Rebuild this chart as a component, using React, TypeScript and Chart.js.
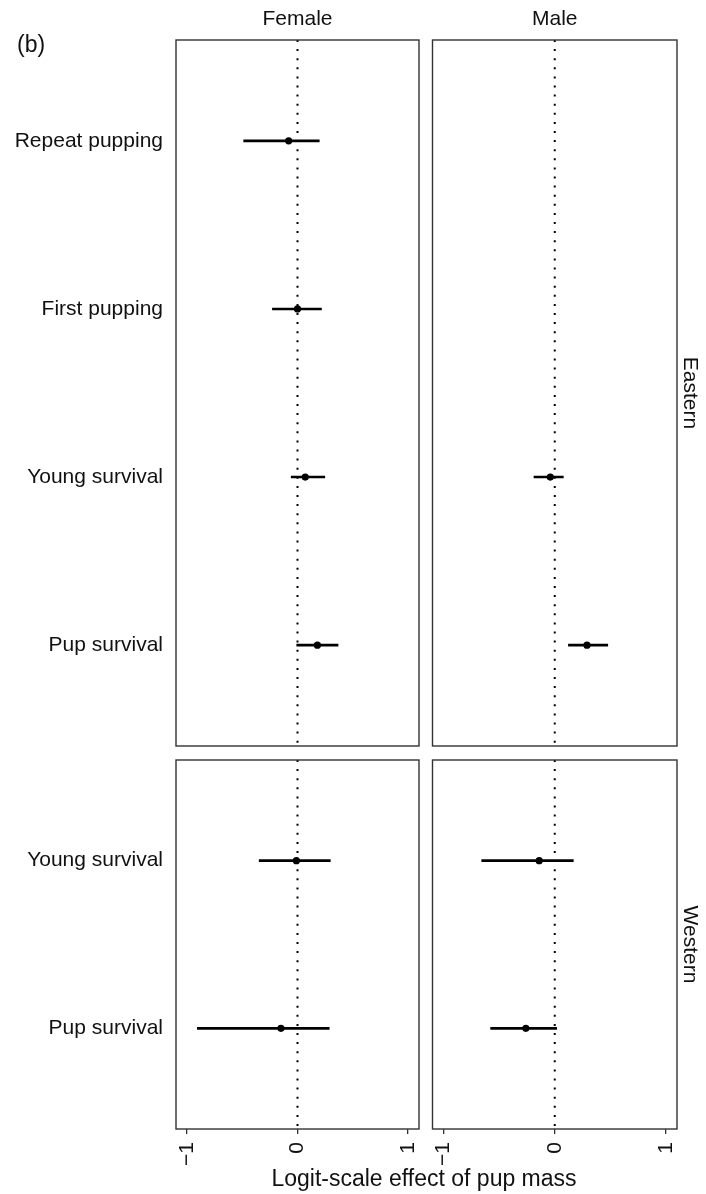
import React, { useEffect, useRef } from 'react';
import { Chart, registerables } from 'chart.js';

Chart.register(...registerables);

const FONT = "'Liberation Sans', Arial, Helvetica, sans-serif";
const TEXT = '#111111';

// ---- data ----
const eastCategories = ['Repeat pupping', 'First pupping', 'Young survival', 'Pup survival'];
const westCategories = ['Young survival', 'Pup survival'];
const xTicks = [-1, 0, 1];

const eastFemaleEst = [-0.08, 0.0, 0.07, 0.18];
const eastFemaleLo = [-0.49, -0.23, -0.06, -0.01];
const eastFemaleHi = [0.2, 0.22, 0.25, 0.37];

const eastMaleEst = [null, null, -0.04, 0.29];
const eastMaleLo = [null, null, -0.19, 0.12];
const eastMaleHi = [null, null, 0.08, 0.48];

const westFemaleEst = [-0.01, -0.15];
const westFemaleLo = [-0.35, -0.91];
const westFemaleHi = [0.3, 0.29];

const westMaleEst = [-0.14, -0.26];
const westMaleLo = [-0.66, -0.58];
const westMaleHi = [0.17, 0.02];

const xTitle = 'Logit-scale effect of pup mass';
const panelTag = '(b)';

type Pad = { left: number; top: number; right: number; bottom: number };
type PanelSpec = {
  categories: string[];
  est: (number | null)[];
  lo: (number | null)[];
  hi: (number | null)[];
  padding: Pad;
  showY: boolean;
  showX: boolean;
  stripTop?: string;
  stripRight?: string;
};

const fmt = (v: number) => (v < 0 ? '\u2212' + Math.abs(v) : String(v));

const panelBorder = {
  id: 'panelBorder',
  afterDraw(chart: any) {
    const { ctx, chartArea: a } = chart;
    ctx.save();
    ctx.strokeStyle = '#333333';
    ctx.lineWidth = 1.4;
    ctx.strokeRect(a.left, a.top, a.right - a.left, a.bottom - a.top);
    ctx.restore();
  },
};

function panelConfig(p: PanelSpec): any {
  const n = p.categories.length;
  const yMin = 0.4;
  const yMax = n + 0.6;
  const datasets: any[] = [];
  datasets.push({
    data: p.est
      .map((v, i) => (v == null ? null : { x: v, y: i + 1 }))
      .filter((d) => d !== null),
    pointRadius: 3.6,
    pointBackgroundColor: '#000',
    pointBorderWidth: 0,
    showLine: false,
    order: 1,
  });
  p.lo.forEach((lo, i) => {
    const hi = p.hi[i];
    if (lo == null || hi == null) return;
    datasets.push({
      data: [
        { x: lo, y: i + 1 },
        { x: hi, y: i + 1 },
      ],
      showLine: true,
      borderColor: '#000',
      borderWidth: 2.6,
      pointRadius: 0,
      order: 2,
    });
  });
  datasets.push({
    data: [
      { x: 0, y: yMin },
      { x: 0, y: yMax },
    ],
    showLine: true,
    borderColor: '#000',
    borderWidth: 2,
    borderDash: [2, 7.1],
    borderCapStyle: 'butt',
    pointRadius: 0,
    order: 3,
  });

  const scales: any = {
    x: {
      type: 'linear',
      position: 'bottom',
      min: -1.1,
      max: 1.1,
      display: p.showX,
      afterBuildTicks: (s: any) => {
        s.ticks = xTicks.map((v) => ({ value: v }));
      },
      ticks: {
        minRotation: 90,
        maxRotation: 90,
        autoSkip: false,
        font: { size: 21, family: FONT },
        color: TEXT,
        padding: 8,
        callback: (v: any) => fmt(Number(v)),
      },
      grid: {
        display: true,
        drawOnChartArea: false,
        drawTicks: true,
        tickLength: 5,
        color: '#333333',
        lineWidth: 1.3,
      },
      border: { display: false },
      afterFit: (s: any) => {
        s.height = p.showX ? 65 : 0;
      },
    },
    y: {
      type: 'linear',
      position: 'left',
      min: yMin,
      max: yMax,
      reverse: true,
      display: p.showY,
      afterBuildTicks: (s: any) => {
        s.ticks = p.categories.map((_, i) => ({ value: i + 1 }));
      },
      ticks: {
        autoSkip: false,
        font: { size: 21, family: FONT },
        color: TEXT,
        padding: 13,
        callback: (v: any) => p.categories[Math.round(Number(v)) - 1] ?? '',
      },
      grid: { display: false, drawTicks: false },
      border: { display: false },
      afterFit: (s: any) => {
        s.width = p.showY ? 176 : 0;
      },
    },
  };
  if (p.stripTop) {
    scales.stripTop = {
      axis: 'x',
      type: 'linear',
      position: 'top',
      display: true,
      ticks: { display: false },
      grid: { display: false, drawTicks: false },
      border: { display: false },
      title: {
        display: true,
        text: p.stripTop,
        color: TEXT,
        font: { size: 21, family: FONT, weight: 'normal' },
        padding: { top: 7, bottom: 0 },
      },
      afterFit: (s: any) => {
        s.height = 40;
      },
    };
  }
  if (p.stripRight) {
    scales.stripRight = {
      axis: 'y',
      type: 'linear',
      position: 'right',
      display: true,
      ticks: { display: false },
      grid: { display: false, drawTicks: false },
      border: { display: false },
      title: {
        display: true,
        text: p.stripRight,
        color: TEXT,
        font: { size: 21, family: FONT, weight: 'normal' },
        padding: { top: 4, bottom: 0 },
      },
      afterFit: (s: any) => {
        s.width = 29;
      },
    };
  }

  return {
    type: 'scatter',
    data: { datasets },
    options: {
      animation: false,
      responsive: false,
      maintainAspectRatio: false,
      devicePixelRatio: 1,
      events: [],
      layout: { padding: p.padding },
      plugins: { legend: { display: false }, tooltip: { enabled: false }, title: { display: false } },
      scales,
    },
    plugins: [panelBorder],
  };
}

const tagPlugin = {
  id: 'panelTag',
  afterDraw(chart: any) {
    const { ctx } = chart;
    ctx.save();
    ctx.font = `23px ${FONT}`;
    ctx.fillStyle = TEXT;
    ctx.textAlign = 'left';
    ctx.textBaseline = 'middle';
    ctx.fillText(panelTag, 17, 46);
    ctx.restore();
  },
};

function labelsConfig(): any {
  return {
    type: 'scatter',
    data: { datasets: [] },
    options: {
      animation: false,
      responsive: false,
      maintainAspectRatio: false,
      devicePixelRatio: 1,
      events: [],
      layout: { padding: { left: 142, right: 0, top: 0, bottom: 1 } },
      scales: { x: { display: false }, y: { display: false } },
      plugins: {
        legend: { display: false },
        tooltip: { enabled: false },
        title: {
          display: true,
          position: 'bottom',
          text: xTitle,
          color: TEXT,
          font: { size: 23, family: FONT, weight: 'normal' },
          padding: 0,
        },
      },
    },
    plugins: [tagPlugin],
  };
}

const W = 706;
const H = 1194;

export default function App() {
  const refs = [useRef<HTMLCanvasElement>(null), useRef<HTMLCanvasElement>(null), useRef<HTMLCanvasElement>(null), useRef<HTMLCanvasElement>(null), useRef<HTMLCanvasElement>(null)];

  useEffect(() => {
    const specs: PanelSpec[] = [
      {
        categories: eastCategories,
        est: eastFemaleEst,
        lo: eastFemaleLo,
        hi: eastFemaleHi,
        padding: { left: 0, top: 0, right: 287, bottom: 448 },
        showY: true,
        showX: false,
        stripTop: 'Female',
      },
      {
        categories: eastCategories,
        est: eastMaleEst,
        lo: eastMaleLo,
        hi: eastMaleHi,
        padding: { left: 432.5, top: 0, right: 0, bottom: 448 },
        showY: false,
        showX: false,
        stripTop: 'Male',
        stripRight: 'Eastern',
      },
      {
        categories: westCategories,
        est: westFemaleEst,
        lo: westFemaleLo,
        hi: westFemaleHi,
        padding: { left: 0, top: 760, right: 287, bottom: 0 },
        showY: true,
        showX: true,
      },
      {
        categories: westCategories,
        est: westMaleEst,
        lo: westMaleLo,
        hi: westMaleHi,
        padding: { left: 432.5, top: 760, right: 0, bottom: 0 },
        showY: false,
        showX: true,
        stripRight: 'Western',
      },
    ];
    const charts: Chart[] = [];
    specs.forEach((s, i) => {
      const c = refs[i].current;
      if (c) charts.push(new Chart(c, panelConfig(s)));
    });
    const lc = refs[4].current;
    if (lc) charts.push(new Chart(lc, labelsConfig()));
    return () => charts.forEach((c) => c.destroy());
  }, []);

  return (
    <div style={{ position: 'absolute', left: 0, top: 0, width: W, height: H, background: '#fff', overflow: 'hidden' }}>
      {refs.map((r, i) => (
        <canvas
          key={i}
          ref={r}
          width={W}
          height={H}
          style={{ position: 'absolute', left: 0, top: 0, width: W, height: H }}
        />
      ))}
    </div>
  );
}
